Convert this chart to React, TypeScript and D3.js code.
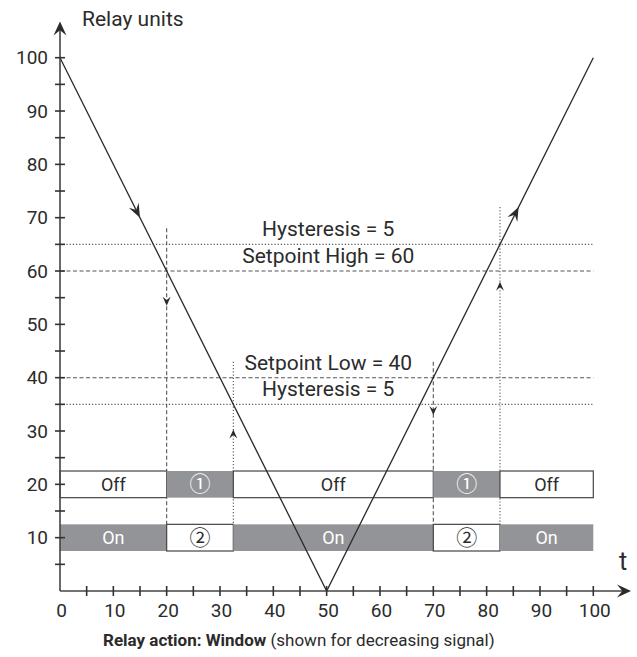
import React from "react";
import * as d3 from "d3";

const signalT = [0, 50, 100];
const signalV = [100, 0, 100];

const levelValues = [65, 60, 40, 35];
const levelLabels = ["Hysteresis = 5", "Setpoint High = 60", "Setpoint Low = 40", "Hysteresis = 5"];
const levelKinds = ["dotted", "dashed", "dashed", "dotted"];

const boundaries = [0, 20, 32.5, 70, 82.5, 100];
const offRowLabels = ["Off", "①", "Off", "①", "Off"];
const offRowActive = [false, true, false, true, false];
const onRowLabels = ["On", "②", "On", "②", "On"];
const onRowActive = [true, false, true, false, true];
const offRowValue = 20;
const onRowValue = 10;
const rowHalf = 2.5;

const markerT = [20, 32.5, 70, 82.5];
const markerTop = [68, 43, 43, 72];
const markerArrowAt = [53.5, 30.3, 33, 58];
const markerDir = ["down", "up", "down", "up"];
const markerKinds = ["dashed", "dotted", "dashed", "dotted"];

const signalArrowT = [15, 86];

const yTicks = d3.range(5, 101, 5);
const yTickLabels = d3.range(10, 101, 10);
const xTicks = d3.range(5, 101, 5);
const xTickLabels = d3.range(0, 101, 10);

const W = 637;
const H = 657;
const FONT = "Roboto, 'Noto Sans', sans-serif";
const CIRCLED_FONT = "'Noto Sans CJK JP', 'DejaVu Sans', sans-serif";

export default function App() {
  const x = d3.scaleLinear().domain([0, 100]).range([60, 593.3]);
  const y = d3.scaleLinear().domain([0, 100]).range([591, 57.7]);
  const GRAY = "#929497";
  const INK = "#2b2b2b";

  const line = d3
    .line<number>()
    .x((_, i) => x(signalT[i]))
    .y((d) => y(d));

  const signalAt = (t: number) => {
    const i = t <= 50 ? 0 : 1;
    const f = (t - signalT[i]) / (signalT[i + 1] - signalT[i]);
    return signalV[i] + f * (signalV[i + 1] - signalV[i]);
  };

  const stealth = (L: number, Wd: number) =>
    `M0,0 L${-L},${-Wd / 2} L${-L * 0.62},0 L${-L},${Wd / 2} Z`;

  const dashFor = (k: string) => (k === "dotted" ? "1.2,2" : "4,2.5");
  const isCircled = (s: string) => s === "①" || s === "②";

  const barText = (s: string, cx: number, cy: number, light: boolean, key: string) => (
    <text
      key={key}
      x={cx}
      y={cy + (isCircled(s) ? 7 : 6.5)}
      textAnchor="middle"
      fontSize={isCircled(s) ? 21 : 18}
      fontFamily={isCircled(s) ? CIRCLED_FONT : FONT}
      fill={light ? "#fff" : INK}
    >
      {s}
    </text>
  );

  return (
    <svg
      width={W}
      height={H}
      style={{ position: "absolute", left: 0, top: 0, background: "#fff" }}
      fontFamily={FONT}
    >
      {/* horizontal level lines */}
      {levelValues.map((v, i) => (
        <g key={"lv" + i}>
          <line
            x1={x(0)}
            x2={x(100)}
            y1={y(v)}
            y2={y(v)}
            stroke="#555"
            strokeWidth={1.1}
            strokeDasharray={dashFor(levelKinds[i])}
          />
          <text
            x={x(50.3)}
            y={y(v) - 8}
            textAnchor="middle"
            fontSize={21}
            fill={INK}
          >
            {levelLabels[i]}
          </text>
        </g>
      ))}

      {/* vertical switching markers */}
      {markerT.map((t, i) => {
        const tipY = y(markerArrowAt[i]);
        const ang = markerDir[i] === "down" ? 90 : -90;
        return (
          <g key={"mk" + i}>
            <line
              x1={x(t)}
              x2={x(t)}
              y1={y(markerTop[i])}
              y2={y(onRowValue - rowHalf)}
              stroke="#555"
              strokeWidth={1.1}
              strokeDasharray={dashFor(markerKinds[i])}
            />
            <path
              d={stealth(9, 8)}
              transform={`translate(${x(t)},${tipY}) rotate(${ang})`}
              fill={INK}
            />
          </g>
        );
      })}

      {/* relay state bars */}
      {boundaries.slice(0, -1).map((b, i) => {
        const x0 = x(b);
        const x1 = x(boundaries[i + 1]);
        return (
          <g key={"bar" + i}>
            <rect
              x={x0}
              y={y(offRowValue + rowHalf)}
              width={x1 - x0}
              height={y(offRowValue - rowHalf) - y(offRowValue + rowHalf)}
              fill={offRowActive[i] ? GRAY : "#fff"}
              stroke={offRowActive[i] ? "none" : "#444"}
              strokeWidth={1.2}
            />
            {barText(offRowLabels[i], (x0 + x1) / 2, y(offRowValue), offRowActive[i], "ot" + i)}
            <rect
              x={x0}
              y={y(onRowValue + rowHalf)}
              width={x1 - x0}
              height={y(onRowValue - rowHalf) - y(onRowValue + rowHalf)}
              fill={onRowActive[i] ? GRAY : "#fff"}
              stroke={onRowActive[i] ? "none" : "#444"}
              strokeWidth={1.2}
            />
            {barText(onRowLabels[i], (x0 + x1) / 2, y(onRowValue), onRowActive[i], "nt" + i)}
          </g>
        );
      })}

      {/* signal */}
      <path d={line(signalV) || ""} fill="none" stroke={INK} strokeWidth={1.3} />
      {signalArrowT.map((t, i) => {
        const seg = t <= 50 ? 0 : 1;
        const dx = x(signalT[seg + 1]) - x(signalT[seg]);
        const dy = y(signalV[seg + 1]) - y(signalV[seg]);
        const ang = (Math.atan2(dy, dx) * 180) / Math.PI;
        return (
          <path
            key={"sa" + i}
            d={stealth(14, 11)}
            transform={`translate(${x(t)},${y(signalAt(t))}) rotate(${ang})`}
            fill={INK}
          />
        );
      })}

      {/* axes */}
      <line x1={x(0)} x2={x(0)} y1={y(0)} y2={28} stroke="#444" strokeWidth={1.6} />
      <path d={stealth(14, 13)} transform={`translate(${x(0)},21.5) rotate(-90)`} fill={INK} />
      <line x1={x(0)} x2={625} y1={y(0)} y2={y(0)} stroke="#444" strokeWidth={1.6} />
      <path d={stealth(14, 13)} transform={`translate(631,${y(0)})`} fill={INK} />

      {yTicks.map((v) => (
        <line key={"yt" + v} x1={x(0) - 5} x2={x(0) + 5} y1={y(v)} y2={y(v)} stroke="#333" strokeWidth={1.6} />
      ))}
      {yTickLabels.map((v) => (
        <text key={"yl" + v} x={48} y={y(v) + 6.5} textAnchor="end" fontSize={19} fill={INK}>
          {v}
        </text>
      ))}
      {xTicks.map((v) => (
        <line key={"xt" + v} x1={x(v)} x2={x(v)} y1={y(0) - 5} y2={y(0) + 5} stroke="#333" strokeWidth={1.6} />
      ))}
      {xTickLabels.map((v) => (
        <text key={"xl" + v} x={x(v) + 1.5} y={617} textAnchor="middle" fontSize={19} fill={INK}>
          {v}
        </text>
      ))}

      <text x={82} y={26} fontSize={21} fill={INK}>
        Relay units
      </text>
      <text x={619} y={570} fontSize={25} fill={INK}>
        t
      </text>
      <text x={103} y={646} fontSize={17} fill={INK}>
        <tspan fontWeight="bold">Relay action: Window</tspan>
        <tspan> (shown for decreasing signal)</tspan>
      </text>
    </svg>
  );
}
